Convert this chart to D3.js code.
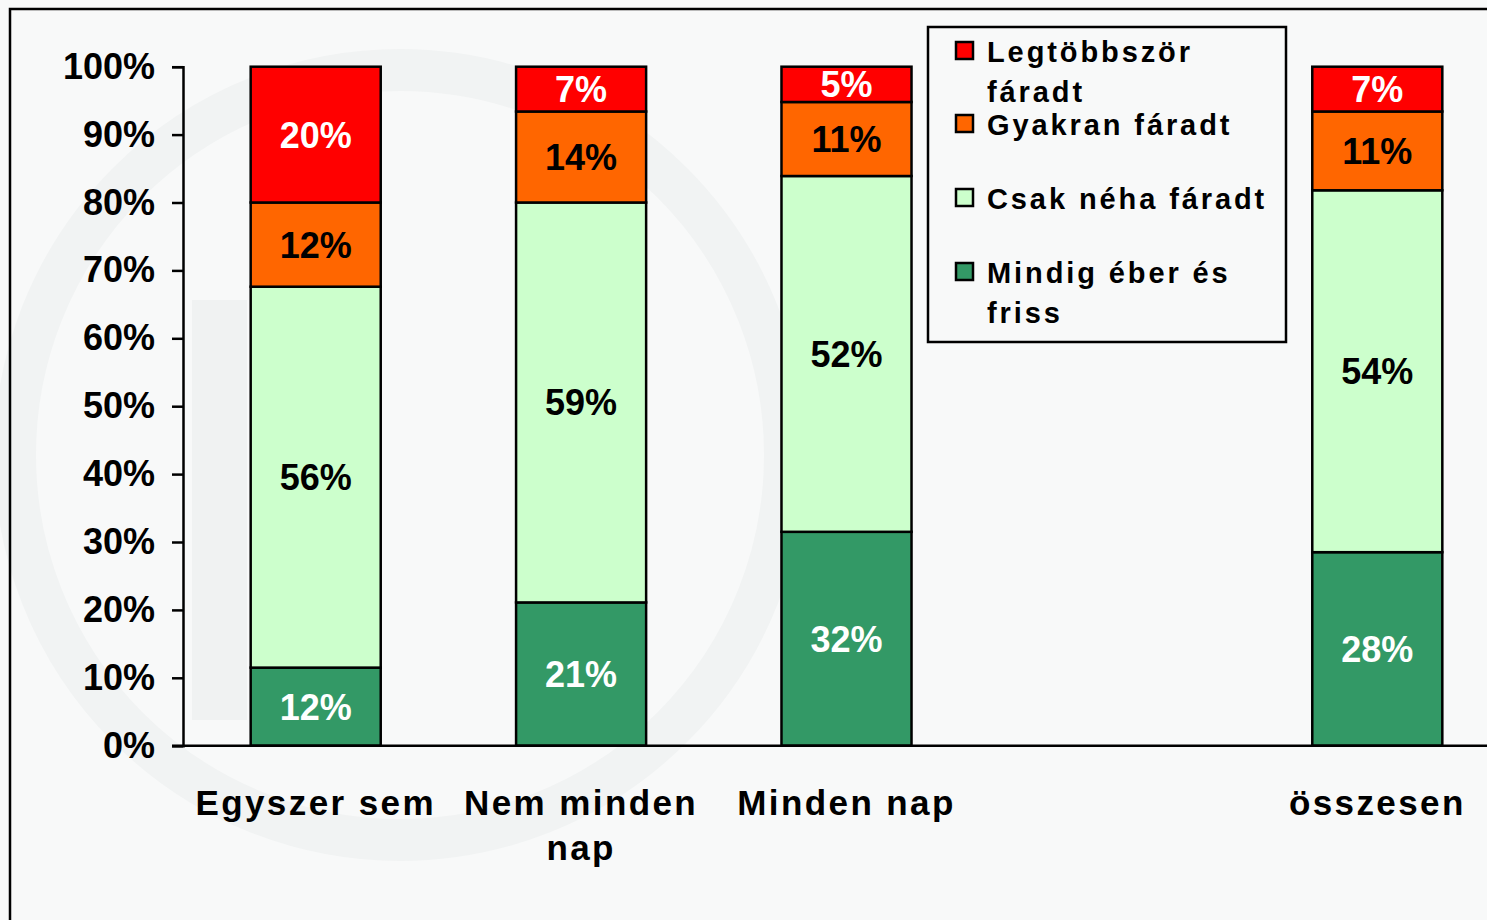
<!DOCTYPE html>
<html>
<head>
<meta charset="utf-8">
<script src="https://cdn.jsdelivr.net/npm/d3@7"></script>
<style>
  body { margin: 0; background: #f8f9f9; }
  svg { display: block; font-family: "Liberation Sans", Arial, sans-serif; font-weight: bold; }
</style>
</head>
<body>
<div class="chart"></div>
<script>
// categories (the 4th slot is empty, the legend sits over it)
var categories = ["Egyszer sem", "Nem minden nap", "Minden nap", "", "összesen"];
var catLines = [["Egyszer sem"], ["Nem minden", "nap"], ["Minden nap"], [], ["összesen"]];

// series, bottom to top
var seriesNames = ["Mindig éber és friss", "Csak néha fáradt", "Gyakran fáradt", "Legtöbbször fáradt"];
var mindig  = [11.5, 21.1, 31.5, null, 28.5];
var csak    = [56.1, 58.9, 52.4, null, 53.3];
var gyakran = [12.4, 13.4, 10.9, null, 11.6];
var legtobb = [20.0, 6.6, 5.2, null, 6.6];

// printed labels
var mindigLabels  = ["12%", "21%", "32%", "", "28%"];
var csakLabels    = ["56%", "59%", "52%", "", "54%"];
var gyakranLabels = ["12%", "14%", "11%", "", "11%"];
var legtobbLabels = ["20%", "7%", "5%", "", "7%"];

var yTicks = [0, 10, 20, 30, 40, 50, 60, 70, 80, 90, 100];

var colors = ["#339966", "#ccffcc", "#ff6600", "#ff0000"];
var labelColors = ["#ffffff", "#000000", "#000000", "#ffffff"];

var width = 1487, height = 920;
var svg = d3.select(".chart").append("svg")
    .attr("width", width)
    .attr("height", height);

// faint watermark
svg.append("circle")
    .attr("cx", 400).attr("cy", 455).attr("r", 385)
    .attr("fill", "none")
    .attr("stroke", "#f1f3f3")
    .attr("stroke-width", 42);
svg.append("rect")
    .attr("x", 192).attr("y", 300).attr("width", 55).attr("height", 420)
    .attr("fill", "#f0f2f2");

// frame
svg.append("path")
    .attr("d", "M10," + height + "V9H" + width)
    .attr("fill", "none")
    .attr("stroke", "#000")
    .attr("stroke-width", 2.5);

var x = d3.scaleBand()
    .domain(categories.map(function(d, i) { return i; }))
    .range([183, 1510])
    .paddingInner(0.51)
    .paddingOuter(0.255);

var y = d3.scaleLinear()
    .domain([0, 100])
    .range([745.7, 66.7]);

var rows = categories.map(function(c, i) {
  return {i: i, s0: mindig[i], s1: csak[i], s2: gyakran[i], s3: legtobb[i]};
}).filter(function(d) { return d.s0 !== null; });

var stack = d3.stack().keys(["s0", "s1", "s2", "s3"]);
var layers = stack(rows);
var labelSets = [mindigLabels, csakLabels, gyakranLabels, legtobbLabels];

// y axis
var yAxis = svg.append("g")
    .attr("transform", "translate(183,0)")
    .call(d3.axisLeft(y).tickValues(yTicks).tickSize(11).tickPadding(17)
      .tickFormat(function(d) { return d + "%"; }));
yAxis.select(".domain").attr("stroke", "#000").attr("stroke-width", 2.5);
yAxis.selectAll(".tick line").attr("stroke", "#000").attr("stroke-width", 2.5);
yAxis.selectAll(".tick text")
    .attr("font-size", 36)
    .attr("font-family", "Liberation Sans, Arial, sans-serif")
    .attr("font-weight", "bold")
    .attr("fill", "#000");

// bars
layers.forEach(function(layer, k) {
  var g = svg.append("g");
  g.selectAll("rect")
    .data(layer)
    .enter()
    .append("rect")
    .attr("x", function(d) { return x(d.data.i); })
    .attr("width", x.bandwidth())
    .attr("y", function(d) { return y(d[1]); })
    .attr("height", function(d) { return y(d[0]) - y(d[1]); })
    .attr("fill", colors[k])
    .attr("stroke", "#000")
    .attr("stroke-width", 2.5);

  g.selectAll("text")
    .data(layer)
    .enter()
    .append("text")
    .attr("x", function(d) { return x(d.data.i) + x.bandwidth() / 2; })
    .attr("y", function(d) { return (y(d[0]) + y(d[1])) / 2; })
    .attr("dy", "0.36em")
    .attr("text-anchor", "middle")
    .attr("font-size", 36)
    .attr("fill", labelColors[k])
    .text(function(d) { return labelSets[k][d.data.i]; });
});

// x axis line
svg.append("line")
    .attr("x1", 172).attr("x2", width)
    .attr("y1", y(0)).attr("y2", y(0))
    .attr("stroke", "#000")
    .attr("stroke-width", 2.5);

// category labels
catLines.forEach(function(lines, i) {
  var t = svg.append("text")
      .attr("text-anchor", "middle")
      .attr("font-size", 35)
      .attr("letter-spacing", 2.4)
      .attr("fill", "#000");
  lines.forEach(function(l, j) {
    t.append("tspan")
      .attr("x", x(i) + x.bandwidth() / 2)
      .attr("y", 815 + j * 45)
      .text(l);
  });
});

// legend, top entry first
var legendItems = [
  {k: 3, lines: ["Legtöbbször", "fáradt"], top: 42},
  {k: 2, lines: ["Gyakran fáradt"], top: 115},
  {k: 1, lines: ["Csak néha fáradt"], top: 189},
  {k: 0, lines: ["Mindig éber és", "friss"], top: 263}
];
var legend = svg.append("g");
legend.append("rect")
    .attr("x", 928).attr("y", 27)
    .attr("width", 358).attr("height", 315)
    .attr("fill", "#f8f9f9")
    .attr("stroke", "#000")
    .attr("stroke-width", 2.5);

legendItems.forEach(function(it) {
  legend.append("rect")
    .attr("x", 956).attr("y", it.top)
    .attr("width", 17).attr("height", 17)
    .attr("fill", colors[it.k])
    .attr("stroke", "#000")
    .attr("stroke-width", 2.5);
  var t = legend.append("text")
    .attr("font-size", 29)
    .attr("letter-spacing", 2.9)
    .attr("fill", "#000");
  it.lines.forEach(function(l, j) {
    t.append("tspan")
      .attr("x", 987)
      .attr("y", it.top + 20 + j * 40)
      .text(l);
  });
});
</script>
</body>
</html>
